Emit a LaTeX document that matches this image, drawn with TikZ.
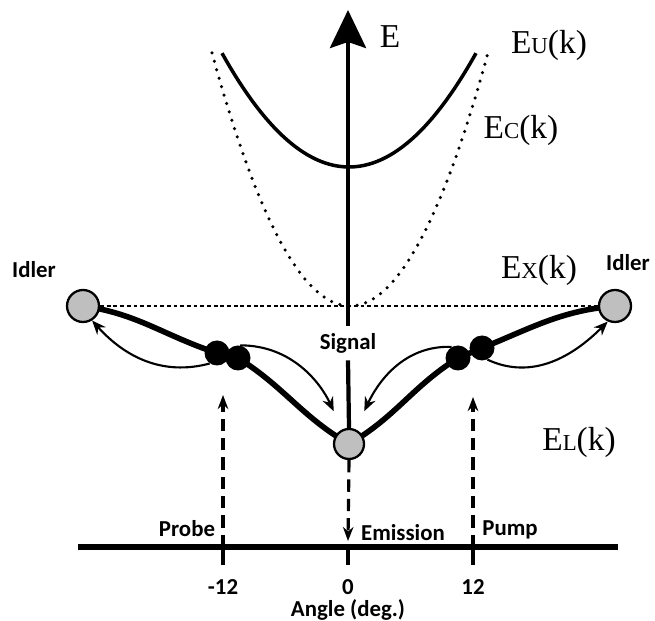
\documentclass[tikz,border=0pt]{standalone}
\usepackage{fontspec}
\setmainfont{Liberation Serif}
\newfontfamily\lblfont{Carlito}
\usetikzlibrary{arrows.meta,backgrounds}
\newcommand{\bandname}[1]{E{\fontsize{13}{13}\selectfont #1}(k)}
\tikzset{
  lbl/.style={font=\lblfont\bfseries\fontsize{13}{13}\selectfont, inner sep=0pt},
  band/.style={font=\fontsize{19}{19}\selectfont, inner sep=0pt},
  idler/.style={draw, circle, line width=1.3pt, fill=black!25, minimum size=0.64cm, inner sep=0pt},
  pair/.style={circle, fill=black, minimum size=0.5cm, inner sep=0pt},
  polariton/.style={line width=3.2pt, line cap=round},
  hop/.style={-{Stealth[length=8pt,width=6.5pt]}, line width=1.2pt},
  beam/.style={-{Stealth[length=8pt,width=6pt]}, line width=1.8pt, dash pattern=on 7pt off 4pt},
  exline/.style={line width=1.1pt, dash pattern=on 2.2pt off 1.6pt},
  cline/.style={line width=2pt, line cap=round, dash pattern=on 0pt off 5pt}
}
\begin{document}
\begin{tikzpicture}[>=stealth, x=0.02cm, y=0.02cm]
  \useasboundingbox (0,0) rectangle (655,621);
  % angle axis
  \draw[line width=3.4pt] (78,74) -- (618,74);
  \foreach \a/\p/\n in {-12/223/m,0/348/z,12/473/p}{
    \draw[line width=2.2pt] (\p,74) -- (\p,56);
    \node[lbl] (tick\n) at (\p,34) {\a};
  }
  \node[lbl] (angle) at (348,11) {Angle (deg.)};
  % dispersion curves
  \draw[line width=2pt] plot[domain=-127:127, samples=60] ({349+\x},{454+(0.084*\x)^2});
  \draw[cline] plot[domain=-138:138, samples=80] ({350+\x},{315+(0.1153*\x)^2});
  % polaritons
  \node[idler] (idlerL) at (83,315) {};
  \node[idler] (idlerR) at (615,315) {};
  \node[idler, minimum size=0.6cm] (signal) at (349,177) {};
  \node[pair] (pL1) at (217,268) {};
  \node[pair] (pL2) at (238,263) {};
  \node[pair] (pR1) at (458,263) {};
  \node[pair] (pR2) at (482,273) {};
  \begin{pgfonlayer}{background}
    \draw[polariton] (idlerL.center) to[out=-8,in=162] (pL1.center) -- (pL2.center)
      to[out=-32,in=150] (signal.center) to[out=30,in=-148] (pR1.center) -- (pR2.center)
      to[out=22,in=185] (idlerR.center);
  \end{pgfonlayer}
  \draw[exline] (idlerL) -- (idlerR);
  % scattering
  \draw[hop] (pL1.235) to[out=195,in=-48] (idlerL.-58);
  \draw[hop, shorten >=0.4cm] (pL2.80) to[out=0,in=115] (signal);
  \draw[hop, shorten >=0.4cm] (pR1.120) to[out=178,in=65] (signal);
  \draw[hop] (pR2.-65) to[out=-25,in=225] (idlerR.-115);
  % energy axis
  \node[lbl, inner ysep=4pt] (sigtxt) at (348,278) {Signal};
  \coordinate (etop) at (348,611);
  \draw[line width=2.4pt, -{Stealth[length=0.76cm,width=0.72cm,inset=0.12cm]}] (sigtxt.north) -- (etop);
  \draw[line width=2.4pt] (sigtxt.south) -- (signal.north);
  \node[band] (elbl) at (390,584) {E};
  \node[band] (eu) at (549,576) {\bandname{U}};
  \node[band] (ec) at (521,491) {\bandname{C}};
  \node[band] (ex) at (539,351) {\bandname{X}};
  \node[band] (el) at (579,179) {\bandname{L}};
  \node[lbl] (idltxtL) at (34,351) {Idler};
  \node[lbl] (idltxtR) at (628,358) {Idler};
  % beams
  \coordinate (probeA) at (223,74);
  \coordinate (probeB) at (223,226);
  \coordinate (pumpA) at (473,74);
  \coordinate (pumpB) at (473,224);
  \coordinate (emitB) at (348,80);
  \draw[beam] (probeA) -- (probeB);
  \draw[beam] (pumpA) -- (pumpB);
  \draw[beam] (signal.south) -- (emitB);
  \node[lbl] (probe) at (187,92) {Probe};
  \node[lbl] (emis) at (403,88) {Emission};
  \node[lbl] (pump) at (510,91) {Pump};
\end{tikzpicture}
\end{document}
